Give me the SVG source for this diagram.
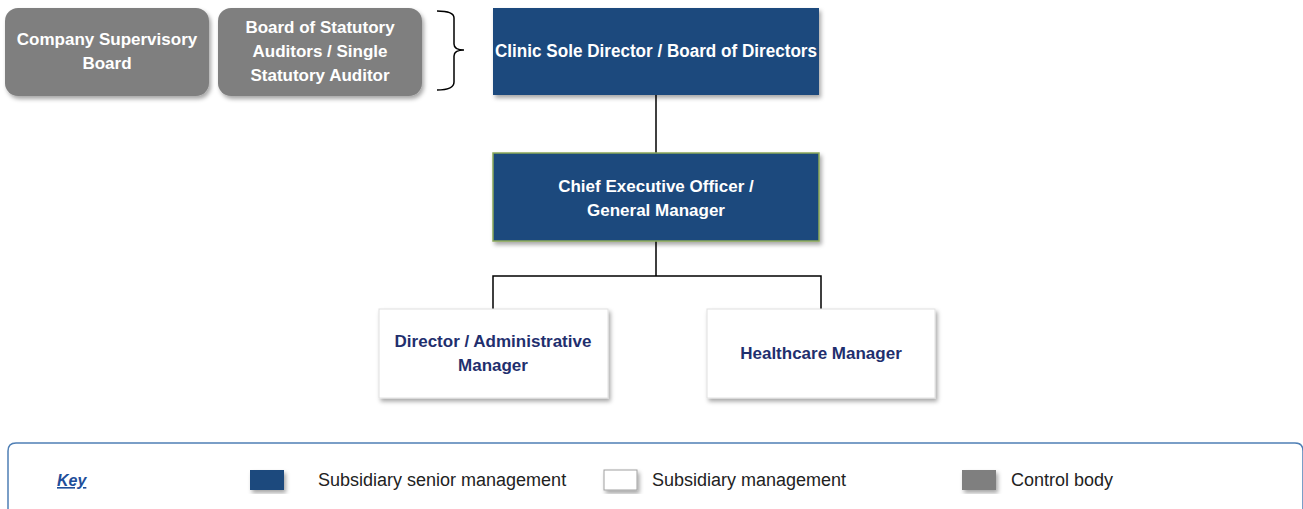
<svg xmlns="http://www.w3.org/2000/svg" width="1303" height="509" viewBox="0 0 1303 509">
<style>
.t{font-family:"Liberation Sans",Arial,sans-serif;font-weight:bold;font-size:17px;text-anchor:middle}
.big{font-size:17.6px}
.w{fill:#ffffff}
.n{fill:#1f2f6e}
.ctrl{fill:#7f7f7f}
.senior{fill:#1f497d}
.mgmt{fill:#ffffff;stroke:#e0e0e0;stroke-width:1}
.conn{stroke:#000;stroke-width:1.5;fill:none}
.lg{font-family:"Liberation Sans",Arial,sans-serif;font-size:18px;fill:#222}
</style>
<defs>
<filter id="sh" x="-10%" y="-10%" width="130%" height="130%">
<feDropShadow dx="2" dy="3" stdDeviation="2" flood-color="#000" flood-opacity="0.35"/>
</filter>
</defs>
<rect width="1303" height="509" fill="#ffffff"/>
<g id="connectors">
<path class="conn" d="M656 95V153"/>
<path class="conn" d="M656 241V276H493V309M656 276H821V309"/>
<path class="conn" d="M437 11Q454 11 454 18V44Q454 50 464 50Q454 50 454 56V82Q454 90 437 90"/>
</g>
<g id="company-supervisory-board">
<rect class="ctrl" x="5" y="8" width="204" height="88" rx="13" filter="url(#sh)"/>
<text class="t w" x="107" y="45">Company Supervisory</text>
<text class="t w" x="107" y="69">Board</text>
</g>
<g id="statutory-auditors">
<rect class="ctrl" x="218" y="8" width="204" height="88" rx="13" filter="url(#sh)"/>
<text class="t w" x="320" y="33">Board of Statutory</text>
<text class="t w" x="320" y="57">Auditors / Single</text>
<text class="t w" x="320" y="81">Statutory Auditor</text>
</g>
<g id="clinic-director">
<rect class="senior" x="493" y="8" width="326" height="87" filter="url(#sh)"/>
<text class="t w big" x="656" y="57" textLength="322" lengthAdjust="spacingAndGlyphs">Clinic Sole Director / Board of Directors</text>
</g>
<g id="ceo">
<rect class="senior" x="493" y="153" width="326" height="88" stroke="#8aa85a" stroke-width="1.5" filter="url(#sh)"/>
<text class="t w" x="656" y="192">Chief Executive Officer /</text>
<text class="t w" x="656" y="216">General Manager</text>
</g>
<g id="admin-manager">
<rect class="mgmt" x="379" y="309" width="229" height="89" filter="url(#sh)"/>
<text class="t n" x="493" y="347">Director / Administrative</text>
<text class="t n" x="493" y="371">Manager</text>
</g>
<g id="healthcare-manager">
<rect class="mgmt" x="707" y="309" width="228" height="89" filter="url(#sh)"/>
<text class="t n" x="821" y="359">Healthcare Manager</text>
</g>
<g id="key">
<path d="M8 520V451Q8 443 16 443H1295Q1303 443 1303 451V520" fill="#fff" stroke="#4f7fb5" stroke-width="1.5"/>
<text x="57" y="486" font-family="Liberation Sans,Arial,sans-serif" font-size="16" font-weight="bold" font-style="italic" fill="#1f4e9a" text-decoration="underline">Key</text>
<rect class="senior" x="250" y="470" width="34" height="20" filter="url(#sh)"/>
<text class="lg" x="318" y="486">Subsidiary senior management</text>
<rect x="604" y="470" width="33" height="20" fill="#fff" stroke="#a0a0a0" stroke-width="1" filter="url(#sh)"/>
<text class="lg" x="652" y="486">Subsidiary management</text>
<rect class="ctrl" x="962" y="470" width="34" height="20" filter="url(#sh)"/>
<text class="lg" x="1011" y="486">Control body</text>
</g>
</svg>
